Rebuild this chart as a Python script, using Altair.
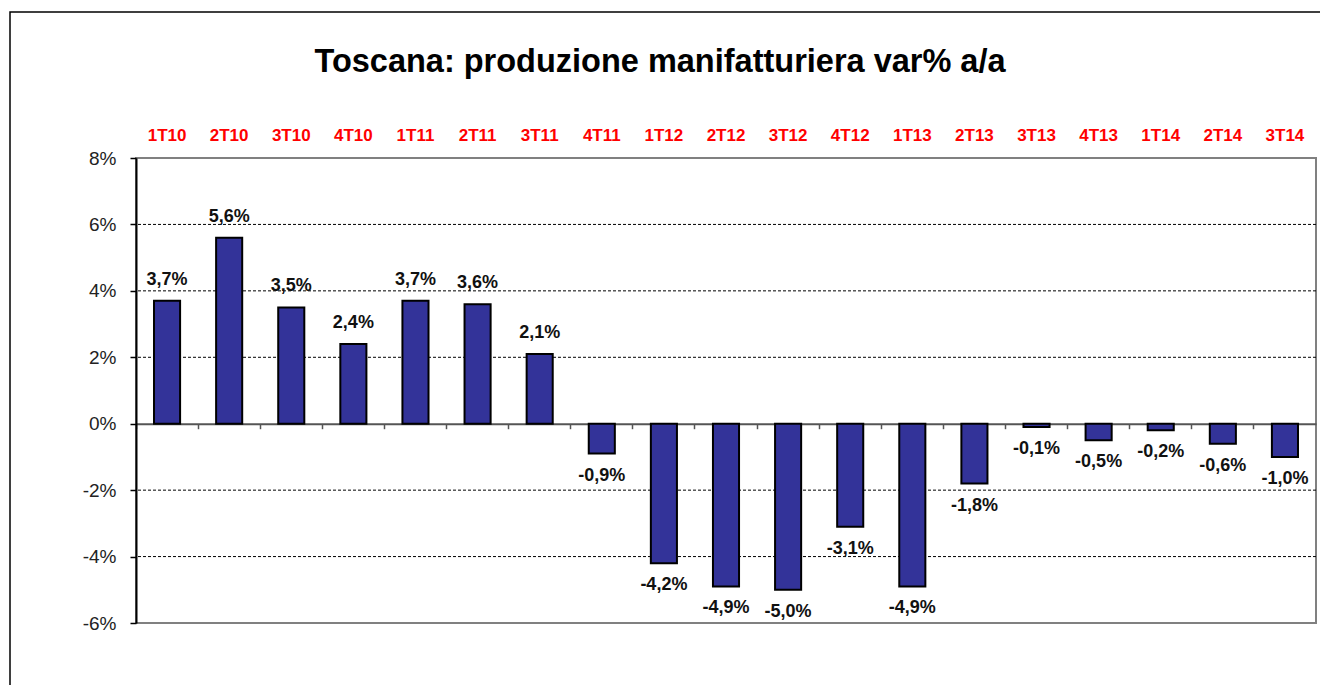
import altair as alt
import pandas as pd

categories = ["1T10", "2T10", "3T10", "4T10", "1T11", "2T11", "3T11", "4T11",
              "1T12", "2T12", "3T12", "4T12", "1T13", "2T13", "3T13", "4T13",
              "1T14", "2T14", "3T14"]
values = [3.7, 5.6, 3.5, 2.4, 3.7, 3.6, 2.1, -0.9,
          -4.2, -4.9, -5.0, -3.1, -4.9, -1.8, -0.1, -0.5,
          -0.2, -0.6, -1.0]
y_ticks = [-6, -4, -2, 0, 2, 4, 6, 8]
grid_values = [-4, -2, 2, 4, 6]
title_text = "Toscana: produzione manifatturiera var% a/a"

df = pd.DataFrame({
    "cat": categories,
    "val": values,
    "label": [f"{v:.1f}%".replace(".", ",") for v in values],
})
grid_df = pd.DataFrame({"g": grid_values})

W, H = 1180, 465
YMIN, YMAX = -6, 8
zero_offset = -(H - H * (YMAX - 0) / (YMAX - YMIN))

FONT = "Liberation Sans"
xscale = alt.Scale(type="band", domain=categories, paddingInner=0, paddingOuter=0)
yscale = alt.Scale(domain=[YMIN, YMAX], nice=False, zero=False)

yaxis = alt.Axis(values=y_ticks, labelExpr="datum.value + '%'", grid=False,
                 domainColor="black", domainWidth=2, tickColor="black", tickSize=6,
                 tickWidth=1.5, labelFont=FONT, labelFontSize=19, labelColor="#222",
                 labelPadding=14, title=None)

grid = alt.Chart(grid_df).mark_rule(color="black", strokeDash=[3, 2], strokeWidth=1).encode(
    y=alt.Y("g:Q", scale=yscale, axis=yaxis)
)

bars = alt.Chart(df).mark_bar(
    width=alt.RelativeBandSize(0.42), color="#333399", stroke="black", strokeWidth=2
).encode(
    x=alt.X("cat:N", sort=categories, scale=xscale,
            axis=alt.Axis(orient="top", ticks=False, domain=False, labelAngle=0,
                          labelColor="#ff0000", labelFont=FONT, labelFontSize=17,
                          labelFontWeight="bold", labelPadding=14, title=None)),
    y=alt.Y("val:Q", scale=yscale, axis=yaxis),
)

text_pos = alt.Chart(df).transform_filter("datum.val >= 0").mark_text(
    font=FONT, fontSize=18, fontWeight="bold", color="#111", baseline="middle", dy=-21
).encode(
    x=alt.X("cat:N", sort=categories, scale=xscale),
    y=alt.Y("val:Q", scale=yscale),
    text="label:N",
)

text_neg = alt.Chart(df).transform_filter("datum.val < 0").mark_text(
    font=FONT, fontSize=18, fontWeight="bold", color="#111", baseline="middle", dy=22
).encode(
    x=alt.X("cat:N", sort=categories, scale=xscale),
    y=alt.Y("val:Q", scale=yscale),
    text="label:N",
)

main = alt.layer(grid, bars, text_pos, text_neg)

zero_axis = alt.Chart(df).mark_bar(opacity=0).encode(
    x=alt.X("cat:N", sort=categories, scale=xscale,
            axis=alt.Axis(orient="bottom", offset=zero_offset, labels=False, title=None,
                          bandPosition=0, domainColor="#555", domainWidth=2,
                          tickColor="#555", tickSize=5, tickWidth=1.5)),
    y=alt.Y("val:Q", scale=yscale),
)

deco = pd.DataFrame({"a": [0]})
frame = alt.Chart(deco).mark_rect(
    fillOpacity=0, stroke="black", strokeWidth=1.5
).encode(
    x=alt.value(-126), x2=alt.value(3000), y=alt.value(-146), y2=alt.value(3000)
)

title = alt.Chart(deco).mark_text(
    font=FONT, fontSize=32.5, fontWeight="bold", color="black",
    align="center", baseline="middle"
).encode(
    x=alt.value(524), y=alt.value(-96), text=alt.value(title_text)
)

chart = alt.layer(main, zero_axis, frame, title).resolve_scale(x="independent").properties(
    width=W, height=H,
    autosize=alt.AutoSizeParams(type="none"),
    padding={"left": 128, "top": 150, "right": 4, "bottom": 62},
).configure_view(stroke="#808080", strokeWidth=2)

chart.save("out.html", embed_options={"renderer": "svg", "actions": False})
